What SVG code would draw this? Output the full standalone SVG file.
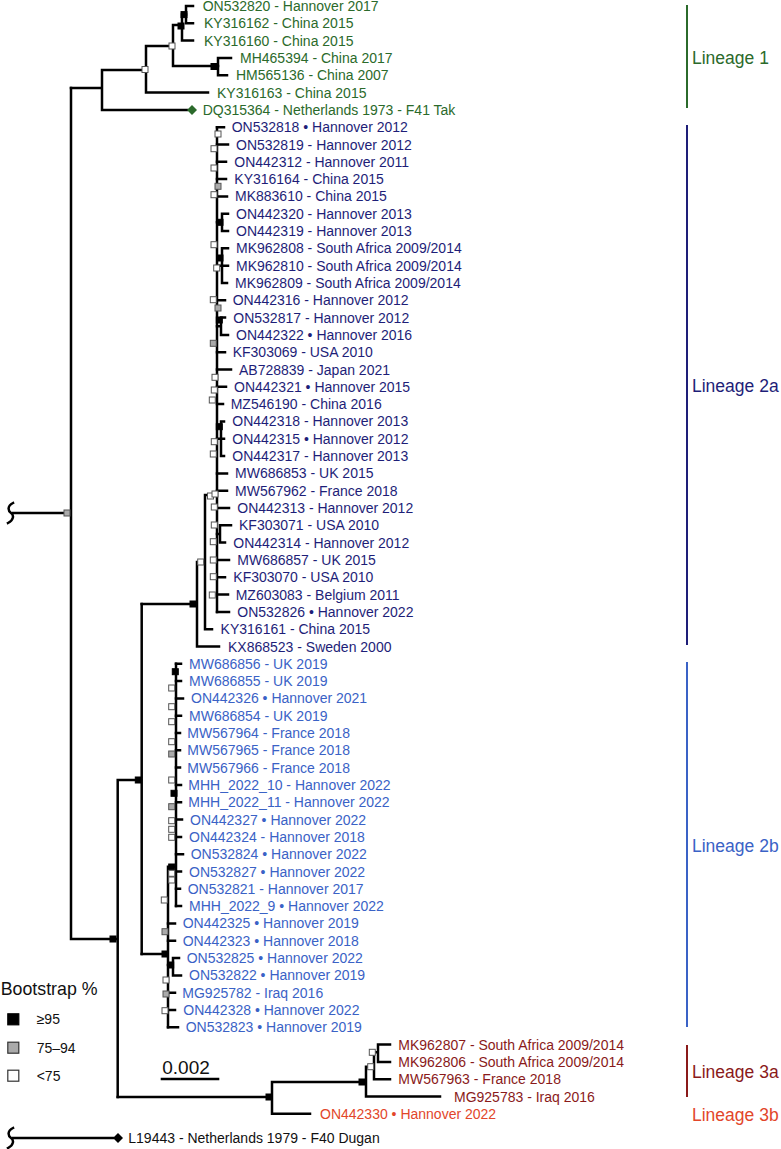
<svg xmlns="http://www.w3.org/2000/svg" width="781" height="1149" viewBox="0 0 781 1149">
<style>
text{font-family:"Liberation Sans",Arial,Helvetica,sans-serif;font-size:14px}
.l1{fill:#2b6a2b}.l2a{fill:#1e1e78}.l2b{fill:#3a62c6}.l3a{fill:#8a1a1a}.l3b{fill:#e2462a}.k{fill:#111}
.lab{font-size:17.5px}
.br{stroke:#000;stroke-width:2.5;fill:none;stroke-linecap:square}
.bar{stroke-width:2;fill:none}
.w{fill:#fff;stroke:#555;stroke-width:1}
.g{fill:#aaa;stroke:#555;stroke-width:1}
.b{fill:#000;stroke:#000;stroke-width:1}
</style>
<defs>
<rect id="sq" x="-3" y="-3" width="6" height="6"/>
</defs>
<rect width="781" height="1149" fill="#fff"/>

<g id="connectors" class="br">
<!-- root -->
<path d="M13 503 C7 506 8 511 11 513 C14 515 14 520 8 523"/>
<path d="M13 513 H71 M71 88 V939 M71 939 H117.7 M117.7 780 V1097 M117.7 780 H141.7 M141.7 604 V954"/>
<!-- lineage 1 -->
<path d="M71 88 H102 M102 70 V110 M102 70 H146 M102 110 H187"/>
<path d="M146 46 V92.6 M146 46 H173 M146 92.6 H208"/>
<path d="M173 25 V66 M173 25 H182 M173 66 H218"/>
<path d="M182 14.6 V40.6 M182 14.6 H186 M182 40.6 H193"/>
<path d="M186 6 V23.3 M186 6 H193 M186 23.3 H193"/>
<path d="M218 57.9 V75.2 M218 57.9 H231 M218 75.2 H227"/>
<!-- lineage 2a -->
<path d="M141.7 604 H197 M197 562 V646.5 M197 646.5 H219 M197 562 H205 M205 495 V629.2 M205 629.2 H212 M205 495 H217 M217 127.2 V611.9"/>
<path d="M217 127.2 H224 M217 144.5 H228 M217 161.8 H226 M217 179.1 H226 M217 196.4 H227"/>
<path d="M217 222.3 H222 M222 213.7 V231 M222 213.7 H228 M222 231 H228"/>
<path d="M217 265.7 H222 M222 248.3 V283 M222 248.3 H228 M222 265.7 H228 M222 283 H227"/>
<path d="M217 300.3 H225 M217 326.3 H221 M221 317.6 V334.9 M221 317.6 H225 M221 334.9 H228"/>
<path d="M217 352.2 H225 M217 369.5 H231 M217 386.8 H226 M217 404.1 H223"/>
<path d="M217 438.8 H221 M221 421.4 V456.1 M221 421.4 H224 M221 438.8 H224 M221 456.1 H224"/>
<path d="M217 473.4 H227 M217 490.7 H227 M217 508 H229"/>
<path d="M217 534 H220 M220 525.3 V542.6 M220 525.3 H231 M220 542.6 H225"/>
<path d="M217 559.9 H229 M217 577.2 H225 M217 594.5 H228 M217 611.9 H229"/>
<!-- lineage 2b -->
<path d="M141.7 954 H168 M168 866.7 V1027.3 M168 866.7 H176 M176 663.8 V906.1"/>
<path d="M176 663.8 H181 M176 681.1 H181 M176 698.4 H183 M176 715.7 H181 M176 733 H180 M176 750.3 H180 M176 767.6 H180 M176 785 H181 M176 802.3 H181 M176 819.6 H182 M176 836.9 H181 M176 854.2 H183 M176 871.5 H181 M176 888.8 H180 M176 906.1 H181"/>
<path d="M168 923.4 H175 M168 940.7 H175 M168 965 H173 M173 958.1 V975.4 M173 958.1 H179 M173 975.4 H181 M168 992.7 H175 M168 1010 H175 M168 1027.3 H178"/>
<!-- lineage 3 -->
<path d="M117.7 1097 H270 M272 1082 V1113.8 M270 1097 H272 M272 1082 H362 M272 1113.8 H310"/>
<path d="M366 1066.7 V1096.5 M362 1082 H366 M366 1096.5 H440 M366 1066.7 H374 M374 1052.3 V1079.2 M374 1079.2 H390 M374 1052.3 H378 M378 1044.6 V1061.9 M378 1044.6 H390 M378 1061.9 H390"/>
<!-- outgroup -->
<path d="M13 1128 C7 1131 8 1136 11 1138 C14 1140 14 1145 8 1148"/>
<path d="M13 1138 H113"/>
</g>

<g id="internal-nodes">
<use href="#sq" class="g" x="67" y="513"/>
<use href="#sq" class="b" x="113" y="939"/>
<use href="#sq" class="b" x="138.3" y="780"/>
<use href="#sq" class="b" x="193" y="604"/>
<use href="#sq" class="b" x="165" y="954"/>
<!-- L1 -->
<use href="#sq" class="w" x="145" y="69.5"/>
<use href="#sq" class="w" x="172" y="46"/>
<use href="#sq" class="b" x="181" y="26"/>
<use href="#sq" class="b" x="184" y="14.6"/>
<use href="#sq" class="b" x="214" y="66.5"/>
<!-- 2a -->
<use href="#sq" class="w" x="200.7" y="562"/>
<use href="#sq" class="w" x="210.5" y="496"/>
<use href="#sq" class="w" x="215" y="494"/>
<use href="#sq" class="w" x="218" y="134"/>
<use href="#sq" class="w" x="214" y="148.7"/>
<use href="#sq" class="w" x="214" y="168"/>
<use href="#sq" class="g" x="218" y="186.3"/>
<use href="#sq" class="w" x="214" y="194.7"/>
<use href="#sq" class="b" x="220" y="222.3"/>
<use href="#sq" class="w" x="214" y="244.7"/>
<use href="#sq" class="b" x="220" y="258"/>
<use href="#sq" class="w" x="216.7" y="268"/>
<use href="#sq" class="w" x="213.3" y="299.7"/>
<use href="#sq" class="g" x="218" y="308"/>
<use href="#sq" class="b" x="219.3" y="320"/>
<use href="#sq" class="g" x="213.3" y="343.3"/>
<use href="#sq" class="w" x="215" y="377.3"/>
<use href="#sq" class="w" x="214.3" y="390"/>
<use href="#sq" class="w" x="212.3" y="400"/>
<use href="#sq" class="b" x="219.3" y="426.7"/>
<use href="#sq" class="w" x="214.3" y="441.7"/>
<use href="#sq" class="w" x="213.3" y="454"/>
<use href="#sq" class="w" x="214.3" y="507"/>
<use href="#sq" class="w" x="214.3" y="525"/>
<use href="#sq" class="w" x="213.3" y="541.7"/>
<use href="#sq" class="w" x="213.3" y="560"/>
<use href="#sq" class="w" x="213.3" y="576.7"/>
<use href="#sq" class="w" x="212.3" y="595"/>
<!-- 2b -->
<use href="#sq" class="b" x="175.3" y="671.7"/>
<use href="#sq" class="w" x="171.7" y="688"/>
<use href="#sq" class="w" x="171.7" y="706.7"/>
<use href="#sq" class="w" x="171.7" y="721.7"/>
<use href="#sq" class="w" x="171.7" y="741.7"/>
<use href="#sq" class="g" x="171.7" y="754"/>
<use href="#sq" class="w" x="171.7" y="780"/>
<use href="#sq" class="b" x="174" y="793.3"/>
<use href="#sq" class="g" x="171.7" y="806.7"/>
<use href="#sq" class="w" x="171.7" y="820.7"/>
<use href="#sq" class="w" x="171.7" y="829.3"/>
<use href="#sq" class="w" x="171.7" y="837.3"/>
<use href="#sq" class="b" x="171.7" y="867"/>
<use href="#sq" class="w" x="171.7" y="873.3"/>
<use href="#sq" class="w" x="171.7" y="880"/>
<use href="#sq" class="w" x="164.3" y="900"/>
<use href="#sq" class="g" x="165" y="931.7"/>
<use href="#sq" class="b" x="170.7" y="965"/>
<use href="#sq" class="w" x="166" y="980"/>
<use href="#sq" class="g" x="166" y="994"/>
<use href="#sq" class="w" x="165" y="1010.7"/>
<!-- 3 -->
<use href="#sq" class="b" x="269" y="1097"/>
<use href="#sq" class="b" x="362" y="1082"/>
<use href="#sq" class="w" x="370.7" y="1066.7"/>
<use href="#sq" class="w" x="372.3" y="1052.3"/>
</g>

<g id="lineage1" class="l1">
<g id="ON532820"><text x="202.7" y="11">ON532820 - Hannover 2017</text></g>
<g id="KY316162"><text x="204" y="28.3">KY316162 - China 2015</text></g>
<g id="KY316160"><text x="204" y="45.6">KY316160 - China 2015</text></g>
<g id="MH465394"><text x="240" y="62.9">MH465394 - China 2017</text></g>
<g id="HM565136"><text x="236" y="80.2">HM565136 - China 2007</text></g>
<g id="KY316163"><text x="217" y="97.6">KY316163 - China 2015</text></g>
<g id="DQ315364"><polygon points="192,105 197,110 192,115 187,110" fill="#2b6a2b"/><text x="202.7" y="114.9">DQ315364 - Netherlands 1973 - F41 Tak</text></g>
</g>

<g id="lineage2a" class="l2a">
<g id="ON532818"><text x="231.7" y="132.2">ON532818 • Hannover 2012</text></g>
<g id="ON532819"><text x="236" y="149.5">ON532819 - Hannover 2012</text></g>
<g id="ON442312"><text x="234.3" y="166.8">ON442312 - Hannover 2011</text></g>
<g id="KY316164"><text x="234.3" y="184.1">KY316164 - China 2015</text></g>
<g id="MK883610"><text x="235" y="201.4">MK883610 - China 2015</text></g>
<g id="ON442320"><text x="236" y="218.7">ON442320 - Hannover 2013</text></g>
<g id="ON442319"><text x="236" y="236">ON442319 - Hannover 2013</text></g>
<g id="MK962808"><text x="236" y="253.3">MK962808 - South Africa 2009/2014</text></g>
<g id="MK962810"><text x="236" y="270.7">MK962810 - South Africa 2009/2014</text></g>
<g id="MK962809"><text x="235" y="288">MK962809 - South Africa 2009/2014</text></g>
<g id="ON442316"><text x="232.7" y="305.3">ON442316 - Hannover 2012</text></g>
<g id="ON532817"><text x="233.3" y="322.6">ON532817 - Hannover 2012</text></g>
<g id="ON442322"><text x="236" y="339.9">ON442322 • Hannover 2016</text></g>
<g id="KF303069"><text x="232.7" y="357.2">KF303069 - USA 2010</text></g>
<g id="AB728839"><text x="239" y="374.5">AB728839 - Japan 2021</text></g>
<g id="ON442321"><text x="234" y="391.8">ON442321 • Hannover 2015</text></g>
<g id="MZ546190"><text x="230.7" y="409.1">MZ546190 - China 2016</text></g>
<g id="ON442318"><text x="232.3" y="426.4">ON442318 - Hannover 2013</text></g>
<g id="ON442315"><text x="232.3" y="443.8">ON442315 • Hannover 2012</text></g>
<g id="ON442317"><text x="232.3" y="461.1">ON442317 - Hannover 2013</text></g>
<g id="MW686853"><text x="235" y="478.4">MW686853 - UK 2015</text></g>
<g id="MW567962"><text x="235" y="495.7">MW567962 - France 2018</text></g>
<g id="ON442313"><text x="237.3" y="513">ON442313 - Hannover 2012</text></g>
<g id="KF303071"><text x="239" y="530.3">KF303071 - USA 2010</text></g>
<g id="ON442314"><text x="233.3" y="547.6">ON442314 - Hannover 2012</text></g>
<g id="MW686857"><text x="237.3" y="564.9">MW686857 - UK 2015</text></g>
<g id="KF303070"><text x="233.3" y="582.2">KF303070 - USA 2010</text></g>
<g id="MZ603083"><text x="235.7" y="599.5">MZ603083 - Belgium 2011</text></g>
<g id="ON532826"><text x="237.3" y="616.9">ON532826 • Hannover 2022</text></g>
<g id="KY316161"><text x="220.6" y="634.2">KY316161 - China 2015</text></g>
<g id="KX868523"><text x="228" y="651.5">KX868523 - Sweden 2000</text></g>
</g>

<g id="lineage2b" class="l2b">
<g id="MW686856"><text x="189" y="668.8">MW686856 - UK 2019</text></g>
<g id="MW686855"><text x="189" y="686.1">MW686855 - UK 2019</text></g>
<g id="ON442326"><text x="191" y="703.4">ON442326 • Hannover 2021</text></g>
<g id="MW686854"><text x="189" y="720.7">MW686854 - UK 2019</text></g>
<g id="MW567964"><text x="187.3" y="738">MW567964 - France 2018</text></g>
<g id="MW567965"><text x="187.3" y="755.3">MW567965 - France 2018</text></g>
<g id="MW567966"><text x="187.3" y="772.6">MW567966 - France 2018</text></g>
<g id="MHH_2022_10"><text x="188.3" y="790">MHH_2022_10 - Hannover 2022</text></g>
<g id="MHH_2022_11"><text x="188.3" y="807.3">MHH_2022_11 - Hannover 2022</text></g>
<g id="ON442327"><text x="190" y="824.6">ON442327 • Hannover 2022</text></g>
<g id="ON442324"><text x="189" y="841.9">ON442324 - Hannover 2018</text></g>
<g id="ON532824"><text x="190.7" y="859.2">ON532824 • Hannover 2022</text></g>
<g id="ON532827"><text x="189" y="876.5">ON532827 • Hannover 2022</text></g>
<g id="ON532821"><text x="187.7" y="893.8">ON532821 - Hannover 2017</text></g>
<g id="MHH_2022_9"><text x="189" y="911.1">MHH_2022_9 • Hannover 2022</text></g>
<g id="ON442325"><text x="182.7" y="928.4">ON442325 • Hannover 2019</text></g>
<g id="ON442323"><text x="182.7" y="945.7">ON442323 • Hannover 2018</text></g>
<g id="ON532825"><text x="186.7" y="963.1">ON532825 • Hannover 2022</text></g>
<g id="ON532822"><text x="189" y="980.4">ON532822 • Hannover 2019</text></g>
<g id="MG925782"><text x="182.3" y="997.7">MG925782 - Iraq 2016</text></g>
<g id="ON442328"><text x="183.3" y="1015">ON442328 • Hannover 2022</text></g>
<g id="ON532823"><text x="185.7" y="1032.3">ON532823 • Hannover 2019</text></g>
</g>

<g id="lineage3" class="l3a">
<g id="MK962807"><text x="398.3" y="1049.6">MK962807 - South Africa 2009/2014</text></g>
<g id="MK962806"><text x="398.3" y="1066.9">MK962806 - South Africa 2009/2014</text></g>
<g id="MW567963"><text x="398.3" y="1084.2">MW567963 - France 2018</text></g>
<g id="MG925783"><text x="454" y="1101.5">MG925783 - Iraq 2016</text></g>
</g>
<g id="ON442330" class="l3b"><text x="320" y="1118.8">ON442330 • Hannover 2022</text></g>

<g id="L19443"><polygon points="118,1133 123,1138 118,1143 113,1138" fill="#000"/><text class="k" x="128.3" y="1143">L19443 - Netherlands 1979 - F40 Dugan</text></g>

<g id="lineage-bars">
<g id="bar-lineage1"><line x1="687" y1="5" x2="687" y2="108" class="bar" stroke="#2b6a2b"/><text class="l1 lab" x="692" y="64">Lineage 1</text></g>
<g id="bar-lineage2a"><line x1="687" y1="125" x2="687" y2="645" class="bar" stroke="#1e1e78"/><text class="l2a lab" x="692" y="392">Lineage 2a</text></g>
<g id="bar-lineage2b"><line x1="687" y1="662" x2="687" y2="1027" class="bar" stroke="#3a62c6"/><text class="l2b lab" x="692" y="852">Lineage 2b</text></g>
<g id="bar-lineage3a"><line x1="687" y1="1045" x2="687" y2="1097" class="bar" stroke="#8a1a1a"/><text class="l3a lab" x="692" y="1078">Lineage 3a</text></g>
<g id="label-lineage3b"><text class="l3b lab" x="692" y="1121">Lineage 3b</text></g>
</g>

<g id="scale-bar">
<line x1="160.7" y1="1079" x2="219.3" y2="1079" stroke="#000" stroke-width="2.5"/>
<text class="k" x="186" y="1074" text-anchor="middle" style="font-size:19px">0.002</text>
</g>

<g id="legend">
<text class="k" x="0.7" y="994.7" style="font-size:17.8px">Bootstrap %</text>
<rect x="7.8" y="1013.8" width="11" height="11" fill="#000" stroke="#000" stroke-width="1.2"/>
<text class="k" x="36.7" y="1024.3">≥95</text>
<rect x="7.8" y="1042.2" width="11" height="11" fill="#aaa" stroke="#333" stroke-width="1.2"/>
<text class="k" x="36.7" y="1052.7">75–94</text>
<rect x="7.8" y="1070.2" width="11" height="11" fill="#fff" stroke="#333" stroke-width="1.2"/>
<text class="k" x="36.7" y="1080.7">&lt;75</text>
</g>
</svg>
